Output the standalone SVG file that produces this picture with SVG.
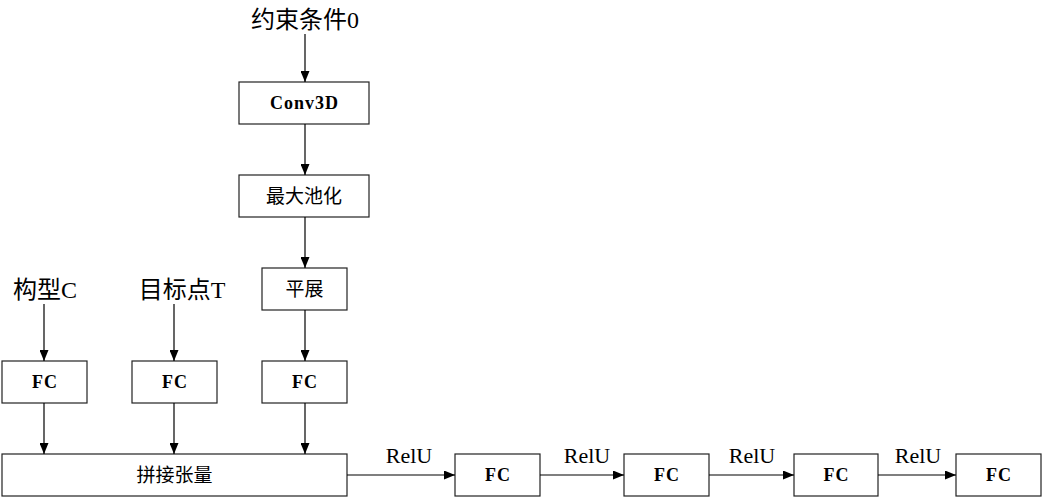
<svg xmlns="http://www.w3.org/2000/svg" width="1042" height="498" viewBox="0 0 1042 498">
<defs>
<marker id="arr" markerWidth="11" markerHeight="9" refX="11" refY="4.5" orient="auto" markerUnits="userSpaceOnUse">
<path d="M0,0 L11,4.5 L0,9 Z" fill="#000"/>
</marker>
<style>
.box{fill:#fff;stroke:#222;stroke-width:1.2}
.lbl{font-family:"Liberation Serif","Noto Sans CJK SC",serif;font-size:19px;text-anchor:middle;dominant-baseline:central;fill:#000}
.b{font-weight:bold;font-size:18px;letter-spacing:1px}
.big{font-family:"Liberation Serif","Noto Sans CJK SC",serif;font-size:24px;text-anchor:middle;fill:#000}
.relu{font-family:"Liberation Serif",serif;font-size:22px;text-anchor:middle;fill:#000}
.ln{stroke:#000;stroke-width:1.2;fill:none;marker-end:url(#arr)}
</style>
</defs>
<rect width="1042" height="498" fill="#fff"/>
<text class="big" x="305" y="28">约束条件0</text>
<text class="big" x="45" y="298">构型C</text>
<text class="big" x="182" y="298">目标点T</text>
<g id="conv3d"><rect class="box" x="239" y="82" width="130" height="42"/><text class="lbl b" x="304.5" y="103">Conv3D</text></g>
<g id="maxpool"><rect class="box" x="239" y="175" width="130" height="42"/><text class="lbl" x="304" y="196">最大池化</text></g>
<g id="flatten"><rect class="box" x="262" y="268" width="85" height="42"/><text class="lbl" x="304.5" y="289">平展</text></g>
<g id="fc1"><rect class="box" x="2" y="361" width="85" height="42"/><text class="lbl b" x="45" y="382">FC</text></g>
<g id="fc2"><rect class="box" x="132" y="361" width="85" height="42"/><text class="lbl b" x="175" y="382">FC</text></g>
<g id="fc3"><rect class="box" x="262" y="361" width="85" height="42"/><text class="lbl b" x="305" y="382">FC</text></g>
<g id="concat"><rect class="box" x="2" y="454" width="345" height="42"/><text class="lbl" x="174.5" y="475">拼接张量</text></g>
<g id="fc4"><rect class="box" x="455" y="454" width="85" height="42"/><text class="lbl b" x="498" y="475">FC</text></g>
<g id="fc5"><rect class="box" x="624" y="454" width="85" height="42"/><text class="lbl b" x="667" y="475">FC</text></g>
<g id="fc6"><rect class="box" x="794" y="454" width="84" height="42"/><text class="lbl b" x="836.5" y="475">FC</text></g>
<g id="fc7"><rect class="box" x="956" y="454" width="85" height="42"/><text class="lbl b" x="999" y="475">FC</text></g>
<g id="connectors">
<line class="ln" x1="305" y1="34" x2="305" y2="82"/>
<line class="ln" x1="305" y1="124" x2="305" y2="175"/>
<line class="ln" x1="305" y1="217" x2="305" y2="268"/>
<line class="ln" x1="305" y1="310" x2="305" y2="361"/>
<line class="ln" x1="44" y1="304" x2="44" y2="361"/>
<line class="ln" x1="174" y1="304" x2="174" y2="361"/>
<line class="ln" x1="44" y1="403" x2="44" y2="454"/>
<line class="ln" x1="174" y1="403" x2="174" y2="454"/>
<line class="ln" x1="305" y1="403" x2="305" y2="454"/>
<line class="ln" x1="347" y1="475" x2="455" y2="475"/>
<line class="ln" x1="540" y1="475" x2="624" y2="475"/>
<line class="ln" x1="709" y1="475" x2="794" y2="475"/>
<line class="ln" x1="878" y1="475" x2="956" y2="475"/>
<text class="relu" x="409" y="463">RelU</text>
<text class="relu" x="587" y="463">RelU</text>
<text class="relu" x="752" y="463">RelU</text>
<text class="relu" x="918" y="463">RelU</text>
</g>
</svg>
